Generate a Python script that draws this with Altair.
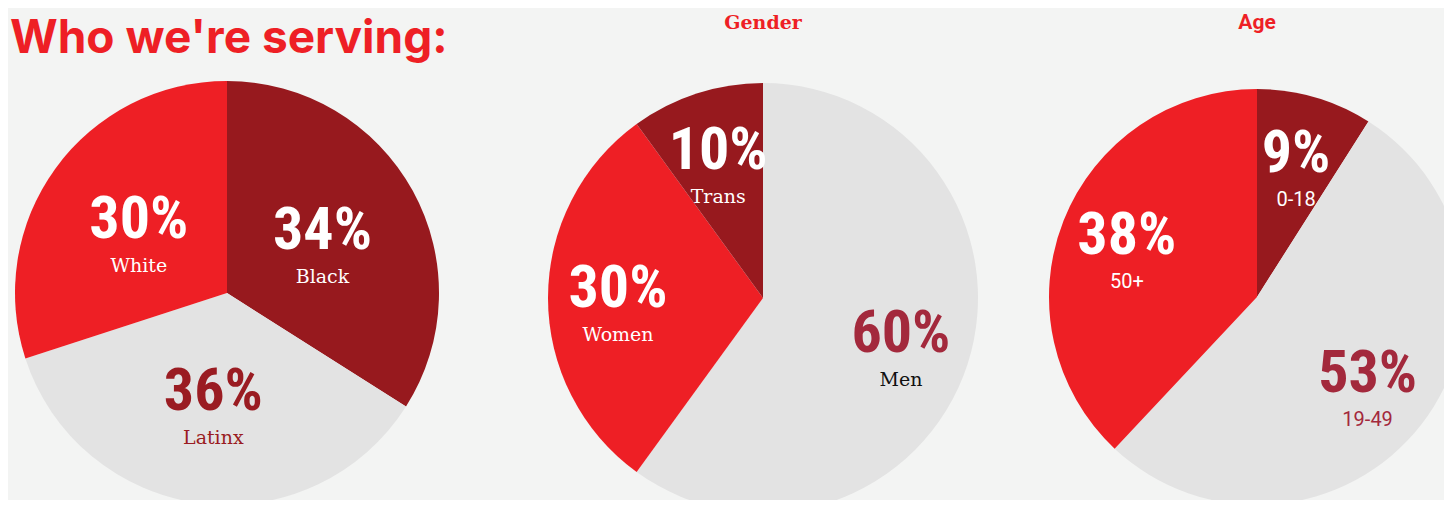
import altair as alt
import pandas as pd

# ---- data ----
race_cats = ["Black", "Latinx", "White"]
race_vals = [34, 36, 30]
gender_cats = ["Men", "Women", "Trans"]
gender_vals = [60, 30, 10]
age_cats = ["0-18", "19-49", "50+"]
age_vals = [9, 53, 38]

title_text = "Who we're serving:"
gender_title = "Gender"
age_title = "Age"

# ---- styles ----
RED = "#ee1f25"
DARK = "#97191e"
GRAY = "#e3e3e3"
BG = "#f3f4f3"

slice_colors = {
    "Black": DARK, "Latinx": GRAY, "White": RED,
    "Men": GRAY, "Women": RED, "Trans": DARK,
    "0-18": DARK, "19-49": GRAY, "50+": RED,
}
pct_colors = {
    "Black": "white", "Latinx": "#9a1c22", "White": "white",
    "Men": "#a3293c", "Women": "white", "Trans": "white",
    "0-18": "white", "19-49": "#a3293c", "50+": "white",
}
name_colors = {
    "Black": "white", "Latinx": "#9a1c22", "White": "white",
    "Men": "#111111", "Women": "white", "Trans": "white",
    "0-18": "white", "19-49": "#a3293c", "50+": "white",
}

PCT_FONT = "Roboto Condensed, Liberation Sans Narrow, DejaVu Sans Condensed, sans-serif"
PCT_SIZE = 60

pies = [
    dict(cats=race_cats, vals=race_vals, cx=219, cy=285, r=212, lr=109,
         name_font="DejaVu Serif", name_size=19),
    dict(cats=gender_cats, vals=gender_vals, cx=755, cy=290, r=215, lr=145,
         name_font="DejaVu Serif", name_size=19),
    dict(cats=age_cats, vals=age_vals, cx=1249, cy=289, r=208, lr=140,
         name_font="Roboto", name_size=20),
]


def cscale(mapping):
    return alt.Scale(domain=list(mapping.keys()), range=list(mapping.values()))


layers = []
for p in pies:
    df = pd.DataFrame({"cat": p["cats"], "value": p["vals"], "idx": list(range(len(p["cats"])))})
    df["pct"] = df["value"].astype(str) + "%"
    base = alt.Chart(df).encode(
        theta=alt.Theta("value:Q", stack=True),
        order=alt.Order("idx:Q"),
        x=alt.value(p["cx"]),
        y=alt.value(p["cy"]),
    )
    arc = base.mark_arc(radius=p["r"], strokeWidth=0).encode(
        color=alt.Color("cat:N", scale=cscale(slice_colors), legend=None)
    )
    pct = base.mark_text(
        radius=p["lr"], font=PCT_FONT, fontSize=PCT_SIZE, fontWeight="bold",
        baseline="alphabetic", align="center", dy=9,
    ).encode(
        text="pct:N",
        color=alt.Color("cat:N", scale=cscale(pct_colors), legend=None),
    )
    name = base.mark_text(
        radius=p["lr"], font=p["name_font"], fontSize=p["name_size"],
        baseline="alphabetic", align="center", dy=43,
    ).encode(
        text="cat:N",
        color=alt.Color("cat:N", scale=cscale(name_colors), legend=None),
    )
    layers += [arc, pct, name]

title = alt.Chart(pd.DataFrame({"t": [title_text]})).mark_text(
    align="left", baseline="alphabetic", font="Inter", fontSize=46,
    fontWeight="bold", color=RED,
).encode(text="t:N", x=alt.value(2), y=alt.value(45))

g_title = alt.Chart(pd.DataFrame({"t": [gender_title]})).mark_text(
    align="center", baseline="alphabetic", font="DejaVu Serif", fontSize=19,
    fontWeight="bold", color=RED,
).encode(text="t:N", x=alt.value(755), y=alt.value(21))

a_title = alt.Chart(pd.DataFrame({"t": [age_title]})).mark_text(
    align="center", baseline="alphabetic", font="Roboto", fontSize=21,
    fontWeight="bold", color=RED,
).encode(text="t:N", x=alt.value(1249), y=alt.value(21))

chart = (
    alt.layer(*layers, title, g_title, a_title)
    .resolve_scale(theta="independent", color="independent")
    .properties(width=1436, height=492, padding=0, autosize="none", background=BG)
    .configure_view(strokeWidth=0)
)

chart.save("out.html", embed_options={"renderer": "svg", "actions": False})
